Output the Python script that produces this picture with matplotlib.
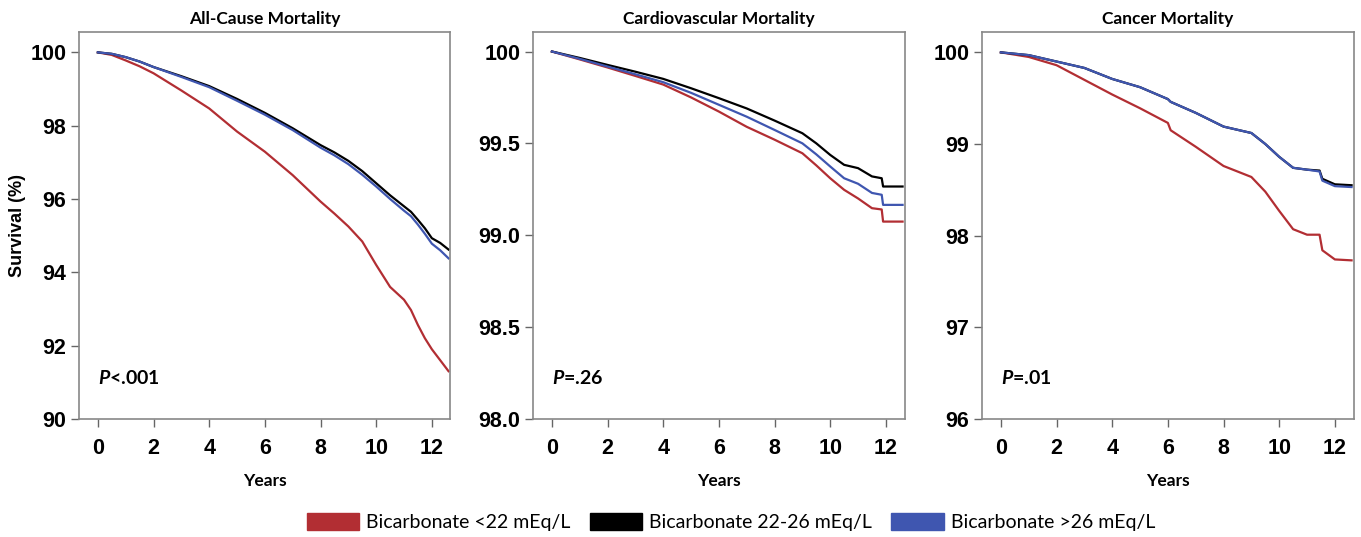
import matplotlib.pyplot as plt
from matplotlib.patches import Patch

# Kaplan-Meier survival (%)
titles = ['All-Cause Mortality', 'Cardiovascular Mortality', 'Cancer Mortality']
labels = ['Bicarbonate <22 mEq/L', 'Bicarbonate 22-26 mEq/L', 'Bicarbonate >26 mEq/L']
colors = ['#B22E33', '#000000', '#3F56B0']
p_values = ['<.001', '=.26', '=.01']

years_all = [0, 0.5, 1, 1.5, 2, 3, 4, 5, 6, 7, 7.5, 8, 8.5, 9, 9.5, 10, 10.5, 11, 11.25, 11.5, 11.75, 12, 12.3, 12.6]
all_low = [100, 99.93, 99.78, 99.62, 99.43, 98.96, 98.47, 97.84, 97.29, 96.65, 96.29, 95.93, 95.6, 95.25, 94.84, 94.2, 93.6, 93.25, 92.97, 92.56, 92.2, 91.9, 91.6, 91.3]
all_mid = [100, 99.96, 99.87, 99.75, 99.60, 99.35, 99.08, 98.73, 98.35, 97.93, 97.7, 97.47, 97.27, 97.04, 96.76, 96.43, 96.1, 95.8, 95.65, 95.43, 95.2, 94.93, 94.8, 94.62]
all_high = [100, 99.96, 99.87, 99.75, 99.60, 99.33, 99.05, 98.68, 98.30, 97.88, 97.64, 97.40, 97.19, 96.95, 96.66, 96.34, 96.0, 95.68, 95.53, 95.3, 95.05, 94.78, 94.6, 94.38]

years_cv = [0, 1, 2, 3, 4, 5, 6, 7, 8, 9, 9.5, 10, 10.5, 11, 11.5, 11.85, 11.9, 12.6]
cv_low = [100, 99.957, 99.913, 99.867, 99.82, 99.75, 99.673, 99.59, 99.52, 99.446, 99.38, 99.31, 99.247, 99.2, 99.147, 99.14, 99.074, 99.074]
cv_mid = [100, 99.965, 99.927, 99.89, 99.851, 99.80, 99.746, 99.69, 99.624, 99.555, 99.50, 99.437, 99.383, 99.365, 99.32, 99.31, 99.265, 99.265]
cv_high = [100, 99.96, 99.918, 99.876, 99.833, 99.775, 99.71, 99.645, 99.573, 99.50, 99.44, 99.374, 99.31, 99.28, 99.23, 99.22, 99.165, 99.165]

years_ca = [0, 1, 2, 3, 4, 5, 6, 6.1, 7, 8, 9, 9.5, 10, 10.5, 11, 11.45, 11.55, 12, 12.6]
ca_low = [100, 99.95, 99.86, 99.70, 99.54, 99.39, 99.23, 99.15, 98.97, 98.76, 98.64, 98.48, 98.27, 98.07, 98.01, 98.01, 97.84, 97.74, 97.73]
ca_mid = [100, 99.97, 99.90, 99.83, 99.71, 99.62, 99.49, 99.46, 99.34, 99.19, 99.12, 99.0, 98.86, 98.74, 98.72, 98.71, 98.62, 98.56, 98.55]
ca_high = [100, 99.97, 99.90, 99.83, 99.71, 99.62, 99.49, 99.46, 99.34, 99.19, 99.12, 99.0, 98.86, 98.74, 98.72, 98.70, 98.60, 98.54, 98.53]

panels = [
    (years_all, [all_low, all_mid, all_high], [90, 92, 94, 96, 98, 100], ['90', '92', '94', '96', '98', '100'], (90, 100.55)),
    (years_cv, [cv_low, cv_mid, cv_high], [98.0, 98.5, 99.0, 99.5, 100], ['98.0', '98.5', '99.0', '99.5', '100'], (98, 100.105)),
    (years_ca, [ca_low, ca_mid, ca_high], [96, 97, 98, 99, 100], ['96', '97', '98', '99', '100'], (96, 100.22)),
]
x_ticks = [0, 2, 4, 6, 8, 10, 12]

tick_font = 'Liberation Sans'
text_font = 'Lato'
plt.rcParams['mathtext.fontset'] = 'custom'
plt.rcParams['mathtext.it'] = 'Lato:italic:bold'

fig = plt.figure(figsize=(13.61, 5.37), dpi=100)
lefts = [0.058, 0.3916, 0.7215]

for i, (yrs, series, yt, ytl, ylim) in enumerate(panels):
    ax = fig.add_axes([lefts[i], 0.22, 0.273, 0.72])
    for vals, c in zip(series, colors):
        ax.plot(yrs, vals, color=c, lw=1.6)
    ax.set_xlim(-0.68, 12.67)
    ax.set_ylim(*ylim)
    ax.set_xticks(x_ticks)
    ax.set_xticklabels([str(t) for t in x_ticks], fontsize=15.5, fontweight='bold', family=tick_font)
    ax.set_yticks(yt)
    ax.set_yticklabels(ytl, fontsize=15.5, fontweight='bold', family=tick_font)
    ax.tick_params(direction='out', length=6, width=1, color='#666666', pad=3)
    ax.tick_params(axis='x', pad=8)
    for sp in ax.spines.values():
        sp.set_color('#888888')
        sp.set_linewidth(1.2)
    ax.set_title(titles[i], fontsize=12.5, fontweight='bold', family=text_font, pad=6)
    ax.set_xlabel('Years', fontsize=12.5, fontweight='bold', family=text_font, labelpad=10)
    if i == 0:
        ax.set_ylabel('Survival (%)', fontsize=13, fontweight='bold', family=tick_font, labelpad=3)
    ax.text(0.05, 0.105, r'$\it{P}$' + p_values[i], transform=ax.transAxes,
            fontsize=14, fontweight='bold', family=text_font, va='center', ha='left')

handles = [Patch(facecolor=c, edgecolor=c, label=l) for c, l in zip(colors, labels)]
fig.legend(handles=handles, loc='center', bbox_to_anchor=(0.537, 0.028), ncol=3,
           frameon=False, prop={'family': text_font, 'size': 14},
           handlelength=2.7, handleheight=1.0, columnspacing=1.0, handletextpad=0.35)

fig.savefig('out.png', dpi=100)
